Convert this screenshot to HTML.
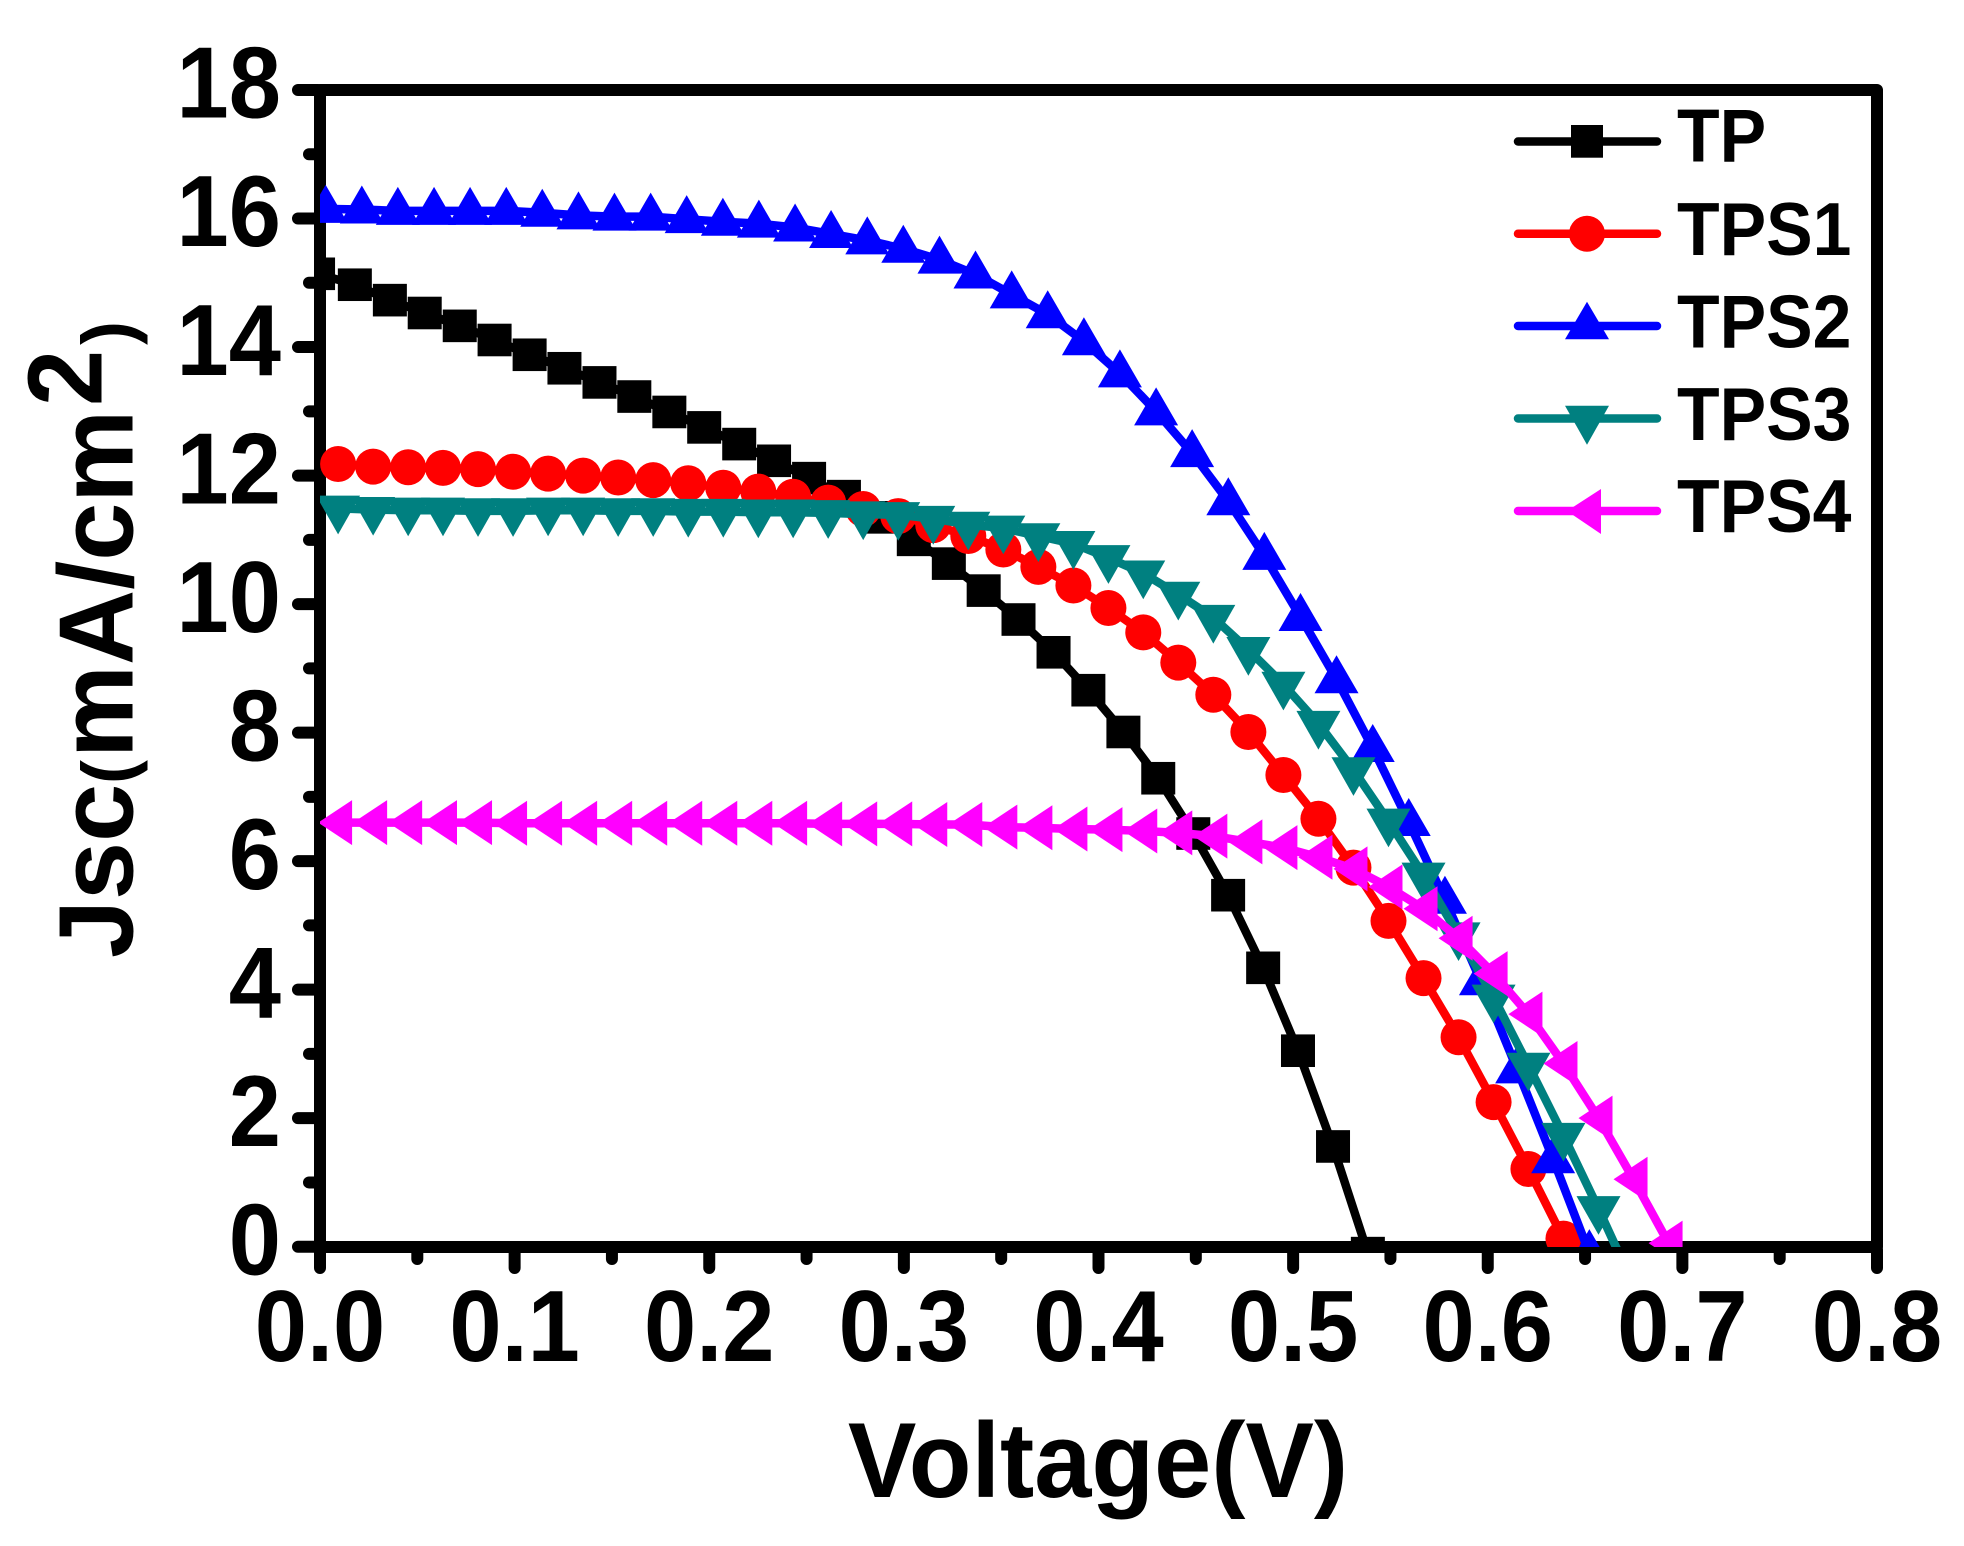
<!DOCTYPE html>
<html lang="en">
<head>
<meta charset="utf-8">
<title>Jsc vs Voltage</title>
<style>
html,body{margin:0;padding:0;background:#fff;}
svg{display:block;}
text{font-family:"Liberation Sans",Arial,sans-serif;font-weight:bold;fill:#000;}
</style>
</head>
<body>
<svg id="chart" xmlns="http://www.w3.org/2000/svg" width="1964" height="1546" viewBox="0 0 1964 1546">
  <rect x="0" y="0" width="1964" height="1546" fill="#fff"/>
  <defs><clipPath id="plot-clip"><rect x="320" y="90" width="1557" height="1157"/></clipPath></defs>
  <g id="ticks"></g>
  <rect x="320" y="90" width="1557" height="1157" fill="none" stroke="#000" stroke-width="12" stroke-linejoin="round"/>
  <g id="tick-labels" font-size="101"></g>
  <g id="series" clip-path="url(#plot-clip)"></g>

  <text font-size="107" text-anchor="middle" transform="translate(1098,1497) scale(0.96,1)">Voltage(V)</text>
  <g>
    <text font-size="106" transform="translate(132.7,958) rotate(-90) scale(0.985,1)">Jsc</text>
    <text font-size="72" transform="translate(132.7,784) rotate(-90)">(</text>
    <text font-size="106" transform="translate(132.7,758) rotate(-90) scale(0.985,1)">mA/cm</text>
    <text font-size="106" transform="translate(101.7,406) rotate(-90) scale(0.953,1)">2</text>
    <text font-size="72" transform="translate(132.7,345) rotate(-90)">)</text>
  </g>

  <g font-size="75">
    <g>
      <line x1="1518" y1="141.5" x2="1657" y2="141.5" stroke="#000" stroke-width="8.5" stroke-linecap="round"/>
      <rect x="1571" y="125" width="32" height="32.7" fill="#000"/>
      <text transform="translate(1677,161.7) scale(0.93,1)">TP</text>
    </g>
    <g>
      <line x1="1518" y1="233.7" x2="1657" y2="233.7" stroke="#f00" stroke-width="8.5" stroke-linecap="round"/>
      <circle cx="1587" cy="233.7" r="18" fill="#f00"/>
      <text transform="translate(1677,255) scale(0.93,1)">TPS1</text>
    </g>
    <g>
      <line x1="1518" y1="326" x2="1657" y2="326" stroke="#00f" stroke-width="8.5" stroke-linecap="round"/>
      <polygon points="1587,301.7 1609,339.3 1565,339.3" fill="#00f"/>
      <text transform="translate(1677,347.7) scale(0.93,1)">TPS2</text>
    </g>
    <g>
      <line x1="1518" y1="418.5" x2="1657" y2="418.5" stroke="#008080" stroke-width="8.5" stroke-linecap="round"/>
      <polygon points="1587,444.7 1609,405.7 1565,405.7" fill="#008080"/>
      <text transform="translate(1677,440) scale(0.93,1)">TPS3</text>
    </g>
    <g>
      <line x1="1518" y1="511" x2="1657" y2="511" stroke="#f0f" stroke-width="8.5" stroke-linecap="round"/>
      <polygon points="1567,511 1601,489 1601,534" fill="#f0f"/>
      <text transform="translate(1677,532) scale(0.93,1)">TPS4</text>
    </g>
  </g>
</svg>
<script>
var xTickLabels = ["0.0","0.1","0.2","0.3","0.4","0.5","0.6","0.7","0.8"];
var xTickValues = [0,0.1,0.2,0.3,0.4,0.5,0.6,0.7,0.8];
var xMinorValues = [0.05,0.15,0.25,0.35,0.45,0.55,0.65,0.75];
var yTickLabels = ["0","2","4","6","8","10","12","14","16","18"];
var yTickValues = [0,2,4,6,8,10,12,14,16,18];
var yMinorValues = [1,3,5,7,9,11,13,15,17];

var tpVoltage = [-.001,.0179,.0359,.0538,.0718,.0897,.1077,.1256,.1436,.1615,.1795,.1974,.2154,.2333,.2513,.2692,.2872,.3051,.3231,.3410,.3589,.3769,.3948,.4128,.4307,.4487,.4666,.4846,.5025,.5205,.5384];
var tpCurrent = [15.14,14.97,14.73,14.53,14.33,14.11,13.88,13.67,13.45,13.23,12.99,12.75,12.49,12.23,11.96,11.68,11.35,11.0,10.63,10.21,9.76,9.25,8.66,8.01,7.29,6.43,5.47,4.34,3.05,1.56,-0.1];

var tps1Voltage = [.0093,.0273,.0453,.0632,.0812,.0992,.1172,.1352,.1532,.1712,.1892,.2072,.2252,.2431,.2611,.2791,.2971,.3151,.3331,.3511,.3691,.3871,.4051,.4230,.4410,.4590,.4770,.4950,.5130,.5310,.5490,.5670,.5850,.6030,.6209,.6389];
var tps1Current = [12.18,12.14,12.13,12.12,12.10,12.06,12.03,12.0,11.97,11.93,11.88,11.81,11.75,11.67,11.58,11.48,11.37,11.23,11.06,10.85,10.58,10.29,9.94,9.56,9.09,8.59,8.01,7.34,6.66,5.90,5.07,4.18,3.26,2.25,1.21,0.125];

var tps2Voltage = [.0029,.0215,.0400,.0586,.0771,.0957,.1142,.1328,.1513,.1699,.1884,.2070,.2255,.2441,.2626,.2812,.2997,.3183,.3368,.3554,.3739,.3925,.4110,.4296,.4481,.4667,.4852,.5038,.5223,.5409,.5594,.5780,.5965,.6151,.6336,.6522];
var tps2Current = [16.15,16.14,16.12,16.12,16.12,16.12,16.09,16.05,16.03,16.03,15.99,15.95,15.92,15.86,15.76,15.66,15.53,15.36,15.13,14.82,14.51,14.09,13.59,13.0,12.35,11.6,10.75,9.8,8.83,7.76,6.61,5.40,4.13,2.76,1.36,-0.1];

var tps3Voltage = [.0093,.0273,.0453,.0632,.0812,.0992,.1172,.1352,.1532,.1712,.1892,.2072,.2252,.2431,.2611,.2791,.2971,.3151,.3331,.3511,.3691,.3871,.4051,.4230,.4410,.4590,.4770,.4950,.5130,.5310,.5490,.5670,.5850,.6030,.6209,.6389,.6569,.6749];
var tps3Current = [11.49,11.47,11.46,11.46,11.45,11.45,11.46,11.46,11.45,11.45,11.44,11.44,11.43,11.43,11.42,11.40,11.39,11.33,11.24,11.18,11.06,10.94,10.72,10.48,10.15,9.79,9.29,8.75,8.14,7.42,6.62,5.78,4.85,3.88,2.82,1.73,0.59,-0.6];

var tps4Voltage = [.0093,.0273,.0453,.0632,.0812,.0992,.1172,.1352,.1532,.1712,.1892,.2072,.2252,.2431,.2611,.2791,.2971,.3151,.3331,.3511,.3691,.3871,.4051,.4230,.4410,.4590,.4770,.4950,.5130,.5310,.5490,.5670,.5850,.6030,.6209,.6389,.6569,.6749,.6929];
var tps4Current = [6.60,6.60,6.60,6.60,6.60,6.59,6.59,6.59,6.59,6.59,6.59,6.59,6.59,6.59,6.58,6.58,6.58,6.57,6.57,6.53,6.52,6.50,6.49,6.47,6.44,6.39,6.30,6.21,6.06,5.88,5.60,5.26,4.80,4.25,3.62,2.85,2.0,1.05,0.055];

var NS = "http://www.w3.org/2000/svg";
function xScale(v){ return 320 + v * 1946.25; }
function yScale(j){ return 1246.7 - j * 64.26; }

function make(tag, attrs, parent){
  var el = document.createElementNS(NS, tag);
  for (var k in attrs) { el.setAttribute(k, attrs[k]); }
  parent.appendChild(el);
  return el;
}

var tickGroup = document.getElementById("ticks");
var labelGroup = document.getElementById("tick-labels");
var seriesGroup = document.getElementById("series");

function drawTick(x1, y1, x2, y2, name){
  var el = make("line", {x1:x1, y1:y1, x2:x2, y2:y2, stroke:"#000", "stroke-width":12, "stroke-linecap":"round"}, tickGroup);
  
  
}

xTickValues.forEach(function(v, i){
  drawTick(xScale(v), 1250, xScale(v), 1268, "x-major-tick");
  var t = make("text", {"text-anchor":"middle", transform:"translate(" + xScale(v) + ",1361) scale(0.93,1)"}, labelGroup);
  t.textContent = xTickLabels[i];
  
  
});
xMinorValues.forEach(function(v){
  drawTick(xScale(v), 1250, xScale(v), 1259, "x-minor-tick");
});
yTickValues.forEach(function(v, i){
  drawTick(318, yScale(v), 298, yScale(v), "y-major-tick");
  var t = make("text", {"text-anchor":"end", transform:"translate(281," + (yScale(v) + 27.7) + ") scale(0.93,1)"}, labelGroup);
  t.textContent = yTickLabels[i];
  
  
});
yMinorValues.forEach(function(v){
  drawTick(318, yScale(v), 309, yScale(v), "y-minor-tick");
});

function drawMarker(shape, cx, cy, color, parent){
  var el;
  if (shape === "square") {
    el = make("rect", {x:cx-17, y:cy-16.3, width:34, height:32.6, fill:color}, parent);
  } else if (shape === "circle") {
    el = make("circle", {cx:cx, cy:cy, r:18, fill:color}, parent);
  } else if (shape === "up") {
    el = make("polygon", {points:[cx,cy-24,cx+22,cy+14,cx-22,cy+14].join(" "), fill:color}, parent);
  } else if (shape === "down") {
    el = make("polygon", {points:[cx,cy+26,cx+22,cy-12.7,cx-22,cy-12.7].join(" "), fill:color}, parent);
  } else {
    el = make("polygon", {points:[cx-20,cy,cx+14,cy-22.5,cx+14,cy+22.5].join(" "), fill:color}, parent);
  }
  return el;
}

function drawSeries(voltage, current, color, shape, name){
  var g = make("g", {}, seriesGroup);
  
  
  var pts = voltage.map(function(v, i){ return xScale(v) + "," + yScale(current[i]); }).join(" ");
  var line = make("polyline", {points:pts, fill:"none", stroke:color, "stroke-width":8.5, "stroke-linejoin":"round"}, g);
  
  
  voltage.forEach(function(v, i){
    var m = drawMarker(shape, xScale(v), yScale(current[i]), color, g);
    
    
  });
}

drawSeries(tpVoltage, tpCurrent, "#000000", "square", "series-tp");
drawSeries(tps1Voltage, tps1Current, "#ff0000", "circle", "series-tps1");
drawSeries(tps2Voltage, tps2Current, "#0000ff", "up", "series-tps2");
drawSeries(tps3Voltage, tps3Current, "#008080", "down", "series-tps3");
drawSeries(tps4Voltage, tps4Current, "#ff00ff", "left", "series-tps4");
</script>
</body>
</html>
